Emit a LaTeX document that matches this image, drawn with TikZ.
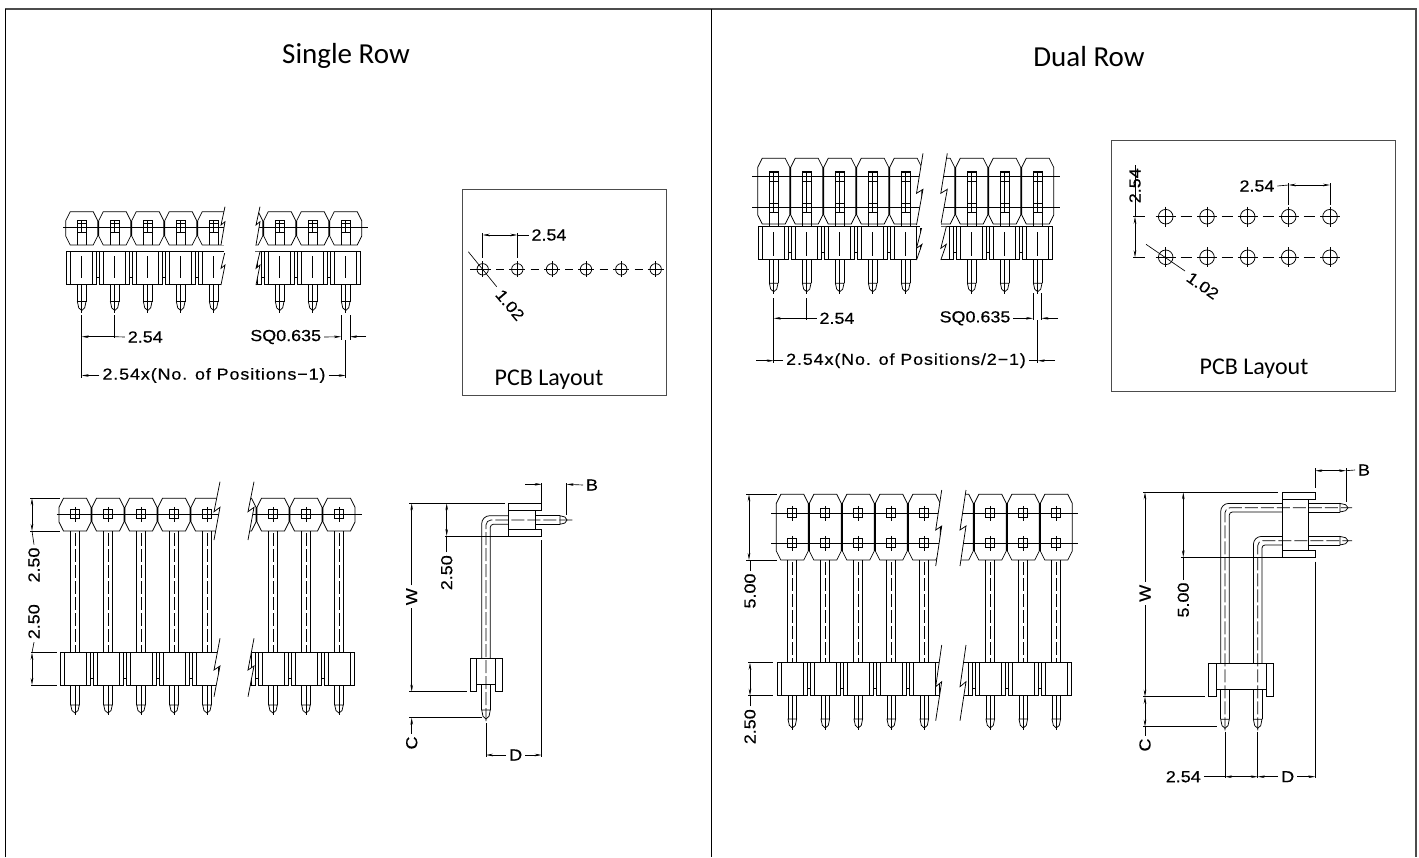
\documentclass[tikz,border=0pt]{standalone}
\usepackage{fontspec}
\usetikzlibrary{arrows.meta}
\newfontfamily\dimfont[FakeStretch=1.12,FakeBold=0.4]{Liberation Sans}
\newfontfamily\capfont{Carlito}
\tikzset{
  part/.style={draw=black,line width=0.75pt,line join=miter},
  dashln/.style={draw=black,line width=0.7pt,dash pattern=on 13pt off 3pt},
  dimln/.style={draw=black,line width=0.65pt},
  dimarr/.style={dimln,-{Stealth[length=7pt,width=2.6pt]}},
  dimboth/.style={dimln,{Stealth[length=7pt,width=2.6pt]}-{Stealth[length=7pt,width=2.6pt]}},
  dimtxt/.style={inner sep=0pt,outer sep=3pt,font=\dimfont\fontsize{16}{18}\selectfont},
  dimlong/.style={dimtxt,font=\dimfont\fontsize{16}{18}\selectfont\addfontfeature{LetterSpace=5.5}},
  headtxt/.style={inner sep=0pt,font=\capfont\fontsize{29}{32}\selectfont},
  pcbtxt/.style={inner sep=0pt,font=\capfont\fontsize{24}{28}\selectfont},
  framebox/.style={draw=black!70,line width=1pt}
}
% octagon body: x, top, bottom
\newcommand{\octbody}[3]{\draw[part] (#1-16,#2+9) -- (#1-11.5,#2) -- (#1+11.5,#2) -- (#1+16,#2+9) -- (#1+16,#3-9) -- (#1+11.5,#3) -- (#1-11.5,#3) -- (#1-16,#3-9) -- cycle;}
% front of housing: x, top, bottom
\newcommand{\hsgbody}[3]{\draw[part] (#1-15,#2) rectangle (#1+15,#3);
  \draw[part] (#1-11,#2) -- (#1-11,#3) (#1+11,#2) -- (#1+11,#3);}
\newcommand{\octrow}[3]{\foreach \n in {0,...,8}{\pgfmathsetmacro\cx{#1+33*\n}\octbody{\cx}{#2}{#3}
  \ifnum\n<8 \draw[part,line width=1.4pt] (\cx+16.5,#2+9) -- (\cx+16.5,#3-9);\fi}}
\newcommand{\hsgrow}[3]{\foreach \n in {0,...,8}{\pgfmathsetmacro\cx{#1+33*\n}\hsgbody{\cx}{#2}{#3}
  \ifnum\n<8 \draw[part] (\cx+15,#3-7) -- (\cx+18,#3-7) (\cx+15,#2) -- (\cx+18,#2);\fi}}
% break lines: x, gap, slant, y1..y4
\newcommand{\brkcut}[7]{\fill[white] (#1+#3,#4) -- (#1,#5) -- (#1+#3,#6) -- (#1,#7) -- (#1+#2,#7) -- (#1+#2+#3,#6) -- (#1+#2,#5) -- (#1+#2+#3,#4) -- cycle;
  \draw[part] (#1+#3,#4) -- (#1,#5) -- (#1+#3,#6) -- (#1,#7);
  \draw[part] (#1+#2+#3,#4) -- (#1+#2,#5) -- (#1+#2+#3,#6) -- (#1+#2,#7);}
% pin tips
\newcommand{\tipdown}[3]{\draw[part] (#1-4.3,#2) -- (#1-3,#2+#3*0.7) -- (#1,#2+#3) -- (#1+3,#2+#3*0.7) -- (#1+4.3,#2) -- cycle;}
\newcommand{\tipright}[3]{\draw[part] (#1,#2-4.3) -- (#1+#3*0.7,#2-3) -- (#1+#3,#2) -- (#1+#3*0.7,#2+3) -- (#1,#2+4.3) -- cycle;}
% pin seen from below: x, top, bottom, tip length
\newcommand{\pinlow}[4]{\draw[part] (#1-4.3,#2) -- (#1-4.3,#3) (#1+4.3,#2) -- (#1+4.3,#3); \tipdown{#1}{#3}{#4}
  \draw[dimln] (#1,#2) -- (#1,#3+#4+2);}
% pad square with cross: x, y
\newcommand{\padsq}[2]{\draw[part] (#1-4.5,#2-4.5) rectangle (#1+4.5,#2+4.5); \draw[dimln] (#1,#2-7.5) -- (#1,#2+7.5);}
% drilled hole: x, y, radius, cross
\newcommand{\padhole}[4]{\draw[part] (#1,#2) circle (#3); \draw[dimln] (#1-#4,#2) -- (#1+#4,#2) (#1,#2-#4) -- (#1,#2+#4);}
% bent pin: x, y, housing x, housing top, notch, tip start, far end
\newcommand{\bentpin}[7]{\draw[part,rounded corners=8pt] (#1-4.3,#4) -- (#1-4.3,#2-4.3) -- (#3,#2-4.3);
  \draw[part,rounded corners=3pt] (#1+4.3,#4) -- (#1+4.3,#2+4.3) -- (#3,#2+4.3);
  \draw[part] (#1-4.3,#5) -- (#1-4.3,#6) (#1+4.3,#5) -- (#1+4.3,#6);
  \tipdown{#1}{#6}{9}
  \draw[dashln,rounded corners=5pt] (#1,#6+11) -- (#1,#2) -- (#7,#2);}

\begin{document}
\begin{tikzpicture}[x=1pt,y=-1pt]
\path[use as bounding box,fill=white] (0,0) rectangle (1419,857);
% panels
\draw[framebox,line width=1.2pt] (5.5,857) -- (5.5,9) -- (1416,9) -- (1416,857);
\draw[part,line width=1pt] (5.5,857) -- (5.5,9);
\draw[part,line width=1pt] (711,9) -- (711,857);
\node[headtxt] (headA) at (346,56) {Single Row};
\node[headtxt] (headB) at (1089,57) {Dual Row};

% single row, top
\begin{scope}
\hsgrow{81.7}{251}{284}
\octrow{81.7}{211.7}{245}
\draw[part] (63.3,227.3) -- (368,227.3);
\brkcut{221}{35}{4}{206.7}{225}{221.7}{245}
\brkcut{221}{35}{4}{251.7}{268.3}{265}{285}
\fill[white] (224,244) rectangle (255,252.5);
\foreach \x in {81.7,114.7,147.7,180.7,213.7,279.7,312.7,345.7}{
  \draw[part] (\x-4.5,245) -- (\x-4.5,220) -- (\x+4.5,220) -- (\x+4.5,245);
  \draw[part] (\x-4.5,223) rectangle (\x+4.5,232);
  \draw[dimln] (\x,220) -- (\x,232) (\x,256) -- (\x,278);
  \pinlow{\x}{284}{301.5}{9}
}
\node[dimtxt] (sa254) at (145.3,337) {2.54};
\node[dimtxt] (saSQ) at (285.7,337) {SQ0.635};
\node[dimlong] (saPos) at (214,375.5) {2.54x(No.  of  Positions−1)};
\draw[dimln] (81.7,315) -- (81.7,378) (114.7,315) -- (114.7,338);
\draw[dimln] (341,315) -- (341,340) (350,315) -- (350,340) (345.7,340) -- (345.7,378);
\draw[dimarr] (114.7,336.7) -- (81.7,336.7);
\draw[dimln] (sa254.west) -- (114.7,336.7);
\draw[dimarr] (saSQ.east) -- (341,336.7);
\draw[dimarr] (366,336.7) -- (350,336.7);
\draw[dimarr] (saPos.west) -- (81.7,375.5);
\draw[dimarr] (saPos.east) -- (345.7,375.5);
\end{scope}

% single row, layout box
\begin{scope}
\draw[framebox] (462.7,189) rectangle (666,395.7);
\foreach \x in {482.7,517.3,552,586,621.3,655.7}{\padhole{\x}{269.3}{5.7}{8}}
\foreach \x in {500,534.6,569,603.6,638.5}{\draw[part] (\x-4,269.3) -- (\x+4,269.3);}
\draw[part] (470,269.3) -- (475,269.3);
\node[dimtxt] (sb254) at (549,235) {2.54};
\node[dimtxt,rotate=-50] (sb102) at (510,305) {1.02};
\node[pcbtxt] (sbPCB) at (549,380) {PCB Layout};
\draw[dimln] (482.7,233) -- (482.7,257.7) (517.3,233) -- (517.3,257.7);
\draw[dimboth] (482.7,235) -- (517.3,235);
\draw[dimln] (sb254.west) -- (517.3,235);
\draw[dimln] (468.3,251.7) -- (496.7,286.7);
\end{scope}

% single row, front
\begin{scope}
\hsgrow{75}{652.7}{685}
\octrow{75}{498.3}{531}
\draw[part] (56.7,514.3) -- (361.7,514.3);
\brkcut{214}{34}{6}{481.7}{511.7}{507.3}{540}
\brkcut{214}{34}{6}{638.3}{670}{666}{696.7}
\foreach \x in {75,108,141,174,207,273,306,339}{
  \padsq{\x}{514.3}
  \draw[part] (\x-4.5,531) -- (\x-4.5,652.7) (\x+4.5,531) -- (\x+4.5,652.7);
  \draw[dashln] (\x,533) -- (\x,652);
  \pinlow{\x}{685}{705}{8}
}
\node[dimtxt,rotate=90] (sc250a) at (34,565) {2.50};
\node[dimtxt,rotate=90] (sc250b) at (34,621.7) {2.50};
\draw[dimln] (30,498.3) -- (60,498.3) (30,531) -- (60,531);
\draw[dimln] (31,652.7) -- (57,652.7) (31,685) -- (57,685);
\draw[dimboth] (32,498.3) -- (32,531);
\draw[dimboth] (32,652.7) -- (32,685);
\draw[dimln] (sc250a.east) -- (32,531);
\draw[dimln] (sc250b.west) -- (32,652.7);
\end{scope}

% single row, side
\begin{scope}
\draw[part] (508.3,503.3) -- (541.7,503.3) -- (541.7,510.7) -- (535,510.7) -- (535,529.3) -- (541.7,529.3) -- (541.7,536) -- (508.3,536) -- cycle;
\draw[part] (508.3,510.7) -- (535,510.7) (508.3,529.3) -- (535,529.3);
\draw[part] (470,658.3) -- (502.7,658.3) -- (502.7,691.7) -- (495,691.7) -- (495,684) -- (476.7,684) -- (476.7,691.7) -- (470,691.7) -- cycle;
\draw[part] (476.7,658.3) -- (476.7,684) (495,658.3) -- (495,684);
\bentpin{486}{520}{508.3}{658.3}{684}{710}{575}
\draw[part] (535,515.7) -- (560,515.7) (535,524.3) -- (560,524.3);
\tipright{560}{520}{7}
\node[dimtxt,rotate=90] (sdW) at (411.7,596.7) {W};
\node[dimtxt,rotate=90] (sdC) at (411.7,743) {C};
\node[dimtxt,rotate=90] (sd250) at (446.7,572.7) {2.50};
\node[dimtxt] (sdB) at (592,485) {B};
\node[dimtxt] (sdD) at (515.7,755) {D};
\draw[dimln] (409.3,503.3) -- (505,503.3) (409.3,691.7) -- (466.7,691.7) (409.3,717.7) -- (481.7,717.7);
\draw[dimln] (445,536) -- (508.3,536);
\draw[dimarr] (sdW.east) -- (411.7,503.3);
\draw[dimarr] (sdW.west) -- (411.7,691.7);
\draw[dimarr] (sdC.east) -- (411.7,717.7);
\draw[dimboth] (446.7,503.3) -- (446.7,536);
\draw[dimln] (sd250.east) -- (446.7,536);
\draw[dimln] (541.7,483.3) -- (541.7,503.3) (566.7,483.3) -- (566.7,515);
\draw[dimarr] (525,484.3) -- (541.7,484.3);
\draw[dimarr] (sdB.west) -- (566.7,484.3);
\draw[dimln] (541.7,540) -- (541.7,757) (486,723) -- (486,757);
\draw[dimarr] (sdD.west) -- (486,755);
\draw[dimarr] (sdD.east) -- (541.7,755);
\end{scope}

% dual row, top
\begin{scope}
\hsgrow{773.7}{226.7}{259.3}
\octrow{773.7}{158.3}{224}
\draw[part] (752,176.7) -- (1060,176.7) (752,207.3) -- (1060,207.3);
\brkcut{916.5}{24.3}{6.5}{153.3}{193.3}{189.3}{225}
\brkcut{916.5}{24.3}{5.5}{226.7}{248.3}{244.3}{260}
\fill[white] (920,223) rectangle (941,228);
\foreach \x in {773.7,806.7,839.7,872.7,905.7,971.7,1004.7,1037.7}{
  \draw[part] (\x-4.5,226.7) -- (\x-4.5,171.7) -- (\x+4.5,171.7) -- (\x+4.5,226.7);
  \draw[part] (\x-4.5,172) rectangle (\x+4.5,181);
  \draw[part] (\x-4.5,203) rectangle (\x+4.5,212);
  \draw[dimln] (\x,171.7) -- (\x,212) (\x,232) -- (\x,256);
  \pinlow{\x}{259.3}{283.3}{8.4}
}
\node[dimtxt] (ta254) at (837,318.3) {2.54};
\node[dimtxt] (taSQ) at (975,318.3) {SQ0.635};
\node[dimlong] (taPos) at (906,360.7) {2.54x(No.  of  Positions/2−1)};
\draw[dimln] (773.7,298) -- (773.7,363) (806.7,298) -- (806.7,320);
\draw[dimln] (1033,293) -- (1033,320) (1041.5,293) -- (1041.5,320) (1037.7,320) -- (1037.7,363);
\draw[dimarr] (806.7,318.3) -- (773.7,318.3);
\draw[dimln] (ta254.west) -- (806.7,318.3);
\draw[dimarr] (taSQ.east) -- (1033,318.3);
\draw[dimarr] (1058,318.3) -- (1041.5,318.3);
\draw[dimarr] (756,360.7) -- (773.7,360.7);
\draw[dimln] (taPos.west) -- (773.7,360.7);
\draw[dimarr] (1055,360.7) -- (1037.7,360.7);
\draw[dimln] (taPos.east) -- (1037.7,360.7);
\end{scope}

% dual row, layout box
\begin{scope}
\draw[framebox] (1111,140) rectangle (1395,391);
\foreach \y in {216.7,257.3}{
  \foreach \x in {1165.7,1207,1247.7,1288.7,1330}{\padhole{\x}{\y}{7.3}{10}}
  \foreach \x in {1186,1227,1268,1309}{\draw[part] (\x-5.5,\y) -- (\x+5.5,\y);}
  \draw[part] (1133,\y) -- (1145,\y);
}
\node[dimtxt] (tb254a) at (1257,186) {2.54};
\node[dimtxt,rotate=90] (tb254b) at (1135,185.7) {2.54};
\node[dimtxt,rotate=-35] (tb102) at (1202.7,285.7) {1.02};
\node[pcbtxt] (tbPCB) at (1254,369) {PCB Layout};
\draw[dimln] (1288.7,183) -- (1288.7,205) (1330,183) -- (1330,205);
\draw[dimboth] (1288.7,185) -- (1330,185);
\draw[dimln] (tb254a.east) -- (1288.7,185);
\draw[dimln] (tb254b.east) -- (1135,216.7);
\draw[dimboth] (1135,216.7) -- (1135,257.3);
\draw[dimln] (1146,244.3) -- (1185,271);
\end{scope}

% dual row, front
\begin{scope}
\hsgrow{792.3}{662.7}{695.7}
\octrow{792.3}{494.3}{560}
\draw[part] (771,513.3) -- (1078,513.3) (771,543.3) -- (1078,543.3);
\brkcut{935.7}{24.3}{6}{490}{530}{526}{566}
\brkcut{935.7}{24.3}{6}{645}{686.7}{681.7}{720.7}
\foreach \x in {792.3,825.3,858.3,891.3,924.3,990.3,1023.3,1056.3}{
  \padsq{\x}{513.3}
  \padsq{\x}{543.3}
  \draw[part] (\x-4.5,560) -- (\x-4.5,662.7) (\x+4.5,560) -- (\x+4.5,662.7);
  \draw[dashln] (\x,562) -- (\x,662);
  \pinlow{\x}{695.7}{719}{9}
}
\node[dimtxt,rotate=90] (tc500) at (750,591) {5.00};
\node[dimtxt,rotate=90] (tc250) at (750,726.7) {2.50};
\draw[dimln] (746,494.3) -- (777,494.3) (746,560) -- (777,560);
\draw[dimln] (748,662.7) -- (773,662.7) (748,695.7) -- (773,695.7);
\draw[dimboth] (749,494.3) -- (749,560);
\draw[dimboth] (750,662.7) -- (750,695.7);
\draw[dimln] (tc500.east) -- (750,560);
\draw[dimln] (tc250.east) -- (750,695.7);
\end{scope}

% dual row, side
\begin{scope}
\draw[part] (1282.7,492.3) -- (1315.3,492.3) -- (1315.3,499) -- (1308.3,499) -- (1308.3,550.7) -- (1315.3,550.7) -- (1315.3,557.3) -- (1282.7,557.3) -- cycle;
\draw[part] (1282.7,499) -- (1308.3,499) (1282.7,550.7) -- (1308.3,550.7);
\draw[part] (1208.7,663.3) -- (1273.7,663.3) -- (1273.7,696.7) -- (1266.7,696.7) -- (1266.7,689.3) -- (1216,689.3) -- (1216,696.7) -- (1208.7,696.7) -- cycle;
\draw[part] (1216,663.3) -- (1216,689.3) (1266.7,663.3) -- (1266.7,689.3);
\bentpin{1225}{507.7}{1282.7}{663.3}{689.3}{719.3}{1352}
\bentpin{1257.7}{540.7}{1282.7}{663.3}{689.3}{719.3}{1352}
\foreach \y in {507.7,540.7}{
  \draw[part] (1308.3,\y-4.3) -- (1340,\y-4.3) (1308.3,\y+4.3) -- (1340,\y+4.3);
  \tipright{1340}{\y}{8}
}
\node[dimtxt,rotate=90] (tdW) at (1145,593.3) {W};
\node[dimtxt,rotate=90] (tdC) at (1145,745) {C};
\node[dimtxt,rotate=90] (td500) at (1183.3,600) {5.00};
\node[dimtxt] (tdB) at (1364,470) {B};
\node[dimtxt] (tdD) at (1287.7,776.7) {D};
\node[dimtxt] (td254) at (1183.3,776.7) {2.54};
\draw[dimln] (1143,492.3) -- (1278,492.3) (1143,696.7) -- (1205,696.7) (1143,726.7) -- (1217,726.7);
\draw[dimln] (1181,557.3) -- (1282.7,557.3);
\draw[dimarr] (tdW.east) -- (1145,492.3);
\draw[dimarr] (tdW.west) -- (1145,696.7);
\draw[dimboth] (1145,696.7) -- (1145,726.7);
\draw[dimln] (tdC.east) -- (1145,726.7);
\draw[dimboth] (1183.3,492.3) -- (1183.3,557.3);
\draw[dimln] (td500.east) -- (1183.3,557.3);
\draw[dimln] (1315.3,468.3) -- (1315.3,488) (1346,468.3) -- (1346,502);
\draw[dimboth] (1315.3,470.7) -- (1346,470.7);
\draw[dimln] (tdB.west) -- (1346,470.7);
\draw[dimln] (1225,731.7) -- (1225,778) (1257.7,731.7) -- (1257.7,778) (1315.3,561.7) -- (1315.3,778);
\draw[dimln] (td254.east) -- (1225,776.7);
\draw[dimboth] (1225,776.7) -- (1257.7,776.7);
\draw[dimarr] (tdD.west) -- (1257.7,776.7);
\draw[dimarr] (tdD.east) -- (1315.3,776.7);
\end{scope}
\end{tikzpicture}
\end{document}
